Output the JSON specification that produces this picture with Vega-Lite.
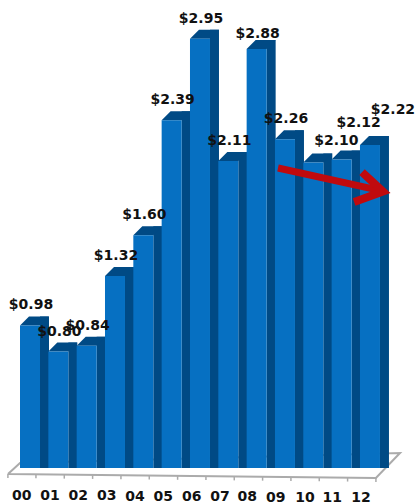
{"$schema":"https://vega.github.io/schema/vega-lite/v6.json","width":417,"height":478,"padding":{"left":0,"top":0,"right":0,"bottom":26},"autosize":"none","background":"white","config":{"view":{"stroke":null},"scale":{"continuousPadding":0}},
"datasets":{"bars":[{"i":0,"value":0.98},{"i":1,"value":0.80},{"i":2,"value":0.84},{"i":3,"value":1.32},{"i":4,"value":1.60},{"i":5,"value":2.39},{"i":6,"value":2.95},{"i":7,"value":2.11},{"i":8,"value":2.88},{"i":9,"value":2.26},{"i":10,"value":2.10},{"i":11,"value":2.12},{"i":12,"value":2.22}],
"years":[{"year":"00","i":-0.293,"v":-0.192},{"year":"01","i":0.706,"v":-0.192},{"year":"02","i":1.706,"v":-0.192},{"year":"03","i":2.706,"v":-0.192},{"year":"04","i":3.706,"v":-0.199},{"year":"05","i":4.706,"v":-0.199},{"year":"06","i":5.706,"v":-0.199},{"year":"07","i":6.706,"v":-0.199},{"year":"08","i":7.67,"v":-0.199},{"year":"09","i":8.67,"v":-0.203},{"year":"10","i":9.706,"v":-0.203},{"year":"11","i":10.67,"v":-0.203},{"year":"12","i":11.68,"v":-0.203}],
"floor":[{"o":0,"i":-0.777,"v":-0.041},{"o":1,"i":12.21,"v":-0.069},{"o":2,"i":13.06,"v":0.103},{"o":3,"i":-0.353,"v":0.034},{"o":4,"i":-0.777,"v":-0.041}],
"ticks":[{"i":-0.78,"a":-0.041,"b":-0.069},{"i":0.21,"a":-0.043,"b":-0.071},{"i":1.21,"a":-0.045,"b":-0.073},{"i":2.21,"a":-0.047,"b":-0.075},{"i":3.21,"a":-0.049,"b":-0.077},{"i":4.21,"a":-0.051,"b":-0.079},{"i":5.21,"a":-0.053,"b":-0.081},{"i":6.21,"a":-0.055,"b":-0.083},{"i":7.21,"a":-0.057,"b":-0.085},{"i":8.21,"a":-0.059,"b":-0.087},{"i":9.21,"a":-0.061,"b":-0.089},{"i":10.21,"a":-0.063,"b":-0.091},{"i":11.21,"a":-0.065,"b":-0.093},{"i":12.21,"a":-0.069,"b":-0.097}],
"shaft":[{"o":0,"i":8.754,"v":2.062},{"o":1,"i":12.3,"v":1.91}],
"head":[{"o":0,"i":11.72,"v":2.034},{"o":1,"i":12.46,"v":1.9},{"o":2,"i":11.44,"v":1.828}]},
"layer":[
{"data":{"name":"floor"},"mark":{"type":"line","stroke":"#ababab","strokeWidth":2},"encoding":{"x":{"field":"i","type":"quantitative","scale":{"domain":[-1.059,13.66],"nice":false,"zero":false,"padding":0},"axis":null},"y":{"field":"v","type":"quantitative","scale":{"domain":[-0.0687,3.2165],"nice":false,"zero":false,"padding":0},"axis":null},"order":{"field":"o"}}},
{"data":{"name":"ticks"},"mark":{"type":"rule","stroke":"#ababab","strokeWidth":1.5},"encoding":{"x":{"field":"i","type":"quantitative","axis":null},"y":{"field":"a","type":"quantitative","axis":null},"y2":{"field":"b"}}},
{"data":{"name":"bars"},"mark":{"type":"bar","orient":"vertical","width":9,"xOffset":14.5,"yOffset":-9,"y2Offset":-9,"color":"#004a85","cornerRadius":0},"encoding":{"x":{"field":"i","type":"quantitative","axis":null},"y":{"field":"value","type":"quantitative","axis":null},"y2":{"datum":0}}},
{"data":{"name":"bars"},"mark":{"type":"point","shape":"M10,0L10,-9L19,-9L19,0Z","size":4,"filled":true,"opacity":1,"color":"#004a85"},"encoding":{"x":{"field":"i","type":"quantitative","axis":null},"y":{"datum":0,"axis":null}}},
{"data":{"name":"bars"},"mark":{"type":"point","shape":"M-10,0L10,0L19,-9L-1,-9Z","size":4,"filled":true,"opacity":1,"color":"#004a85"},"encoding":{"x":{"field":"i","type":"quantitative","axis":null},"y":{"field":"value","type":"quantitative","axis":null}}},
{"data":{"name":"bars"},"mark":{"type":"bar","orient":"vertical","width":20,"color":"#0670c2"},"encoding":{"x":{"field":"i","type":"quantitative","axis":null},"y":{"field":"value","type":"quantitative","axis":null},"y2":{"datum":0}}},
{"data":{"name":"shaft"},"mark":{"type":"line","stroke":"#c00a0e","strokeWidth":7,"strokeCap":"butt"},"encoding":{"x":{"field":"i","type":"quantitative","axis":null},"y":{"field":"v","type":"quantitative","axis":null},"order":{"field":"o"}}},
{"data":{"name":"head"},"mark":{"type":"line","stroke":"#c00a0e","strokeWidth":8,"strokeJoin":"miter","strokeCap":"butt"},"encoding":{"x":{"field":"i","type":"quantitative","axis":null},"y":{"field":"v","type":"quantitative","axis":null},"order":{"field":"o"}}},
{"data":{"name":"years"},"mark":{"type":"text","font":"DejaVu Sans","fontWeight":"bold","fontSize":14,"color":"#111111","baseline":"middle"},"encoding":{"x":{"field":"i","type":"quantitative","axis":null},"y":{"field":"v","type":"quantitative","axis":null},"text":{"field":"year"}}},
{"data":{"name":"bars"},"transform":[{"filter":"datum.i!=8&&datum.i<10"}],"mark":{"type":"text","font":"DejaVu Sans","fontWeight":"bold","fontSize":14,"color":"#111111","dx":1,"dy":-20,"baseline":"middle"},"encoding":{"x":{"field":"i","type":"quantitative","axis":null},"y":{"field":"value","type":"quantitative","axis":null},"text":{"field":"value","type":"quantitative","format":"$.2f"}}},
{"data":{"name":"bars"},"transform":[{"filter":"datum.i==8"}],"mark":{"type":"text","font":"DejaVu Sans","fontWeight":"bold","fontSize":14,"color":"#111111","dx":1,"dy":-15,"baseline":"middle"},"encoding":{"x":{"field":"i","type":"quantitative","axis":null},"y":{"field":"value","type":"quantitative","axis":null},"text":{"field":"value","type":"quantitative","format":"$.2f"}}},
{"data":{"name":"bars"},"transform":[{"filter":"datum.i==10"}],"mark":{"type":"text","font":"DejaVu Sans","fontWeight":"bold","fontSize":14,"color":"#111111","dx":23,"dy":-21,"baseline":"middle"},"encoding":{"x":{"field":"i","type":"quantitative","axis":null},"y":{"field":"value","type":"quantitative","axis":null},"text":{"field":"value","type":"quantitative","format":"$.2f"}}},
{"data":{"name":"bars"},"transform":[{"filter":"datum.i==11"}],"mark":{"type":"text","font":"DejaVu Sans","fontWeight":"bold","fontSize":14,"color":"#111111","dx":17,"dy":-37,"baseline":"middle"},"encoding":{"x":{"field":"i","type":"quantitative","axis":null},"y":{"field":"value","type":"quantitative","axis":null},"text":{"field":"value","type":"quantitative","format":"$.2f"}}},
{"data":{"name":"bars"},"transform":[{"filter":"datum.i==12"}],"mark":{"type":"text","font":"DejaVu Sans","fontWeight":"bold","fontSize":14,"color":"#111111","dx":23,"dy":-35,"baseline":"middle"},"encoding":{"x":{"field":"i","type":"quantitative","axis":null},"y":{"field":"value","type":"quantitative","axis":null},"text":{"field":"value","type":"quantitative","format":"$.2f"}}}
]}
